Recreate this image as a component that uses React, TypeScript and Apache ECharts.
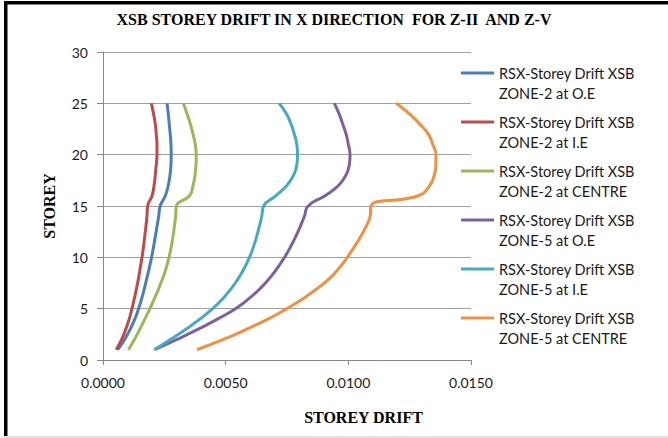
import React, { useEffect, useRef } from "react";
import * as echarts from "echarts";

// Storey numbers (vertical axis)
const storeys = [1, 2, 3, 4, 5, 6, 7, 8, 9, 10, 11, 12, 13, 14, 15, 16, 17, 18, 19, 20, 21, 22, 23, 24, 25];

// Storey drift values per storey, one list per case
const zone2OE = [0.0006, 0.00088, 0.00111, 0.0013, 0.00145, 0.00158, 0.00169, 0.00179, 0.00189, 0.00198, 0.00206, 0.00213, 0.0022, 0.00227, 0.00233, 0.00254, 0.00266, 0.00273, 0.00277, 0.00278, 0.00277, 0.00274, 0.0027, 0.00266, 0.00261];
const zone2IE = [0.00054, 0.00076, 0.00093, 0.00107, 0.00118, 0.00128, 0.00137, 0.00145, 0.00152, 0.00159, 0.00165, 0.0017, 0.00175, 0.00179, 0.00182, 0.002, 0.00208, 0.00213, 0.00217, 0.0022, 0.0022, 0.00217, 0.00213, 0.00206, 0.00197];
const zone2Centre = [0.00104, 0.00128, 0.0015, 0.00171, 0.00191, 0.0021, 0.00228, 0.00244, 0.00258, 0.00269, 0.00278, 0.00285, 0.00291, 0.00296, 0.00299, 0.00353, 0.00367, 0.00375, 0.00379, 0.0038, 0.00376, 0.00367, 0.00356, 0.00342, 0.00328];
const zone5OE = [0.0021, 0.00302, 0.00388, 0.00468, 0.0054, 0.00596, 0.00642, 0.0068, 0.00712, 0.0074, 0.00764, 0.00785, 0.00804, 0.00821, 0.00836, 0.00905, 0.0096, 0.0099, 0.01004, 0.01007, 0.01, 0.00991, 0.00977, 0.00962, 0.00943];
const zone5IE = [0.00209, 0.00275, 0.00338, 0.00396, 0.00447, 0.00489, 0.00524, 0.00553, 0.00577, 0.00597, 0.00613, 0.00626, 0.00637, 0.00647, 0.00655, 0.00705, 0.00749, 0.00777, 0.0079, 0.00793, 0.0079, 0.0078, 0.00766, 0.00747, 0.00718];
const zone5Centre = [0.00383, 0.00491, 0.00586, 0.00674, 0.00749, 0.00817, 0.00875, 0.00926, 0.00964, 0.00996, 0.01024, 0.0105, 0.01072, 0.01089, 0.01092, 0.01285, 0.01332, 0.0135, 0.01357, 0.01357, 0.01344, 0.01326, 0.0129, 0.01248, 0.01195];

const seriesNames = [
  "RSX-Storey Drift XSB\nZONE-2 at O.E",
  "RSX-Storey Drift XSB\nZONE-2 at I.E",
  "RSX-Storey Drift XSB\nZONE-2 at CENTRE",
  "RSX-Storey Drift XSB\nZONE-5 at O.E",
  "RSX-Storey Drift XSB\nZONE-5 at I.E",
  "RSX-Storey Drift XSB\nZONE-5 at CENTRE",
];
const seriesValues = [zone2OE, zone2IE, zone2Centre, zone5OE, zone5IE, zone5Centre];
const seriesColors = ["#4A7EBB", "#BE4B48", "#98B954", "#7D60A0", "#46AAC5", "#F09040"];

const titleText = "XSB STOREY DRIFT IN X DIRECTION  FOR Z-II  AND Z-V";
const xAxisTitle = "STOREY DRIFT";
const yAxisTitle = "STOREY";

const serif = "'Liberation Serif', 'Times New Roman', serif";
const sans = "Lato, 'Open Sans', sans-serif";

export default function App() {
  const ref = useRef<HTMLDivElement>(null);

  useEffect(() => {
    if (!ref.current) return;
    const chart = echarts.init(ref.current, undefined, { renderer: "svg" });

    const series = seriesValues.map((vals, i) => ({
      name: seriesNames[i],
      type: "line",
      data: vals.map((v, k) => [v, storeys[k]]),
      smooth: 0.5,
      showSymbol: false,
      symbol: "none",
      lineStyle: { width: 3, color: seriesColors[i] },
      itemStyle: { color: seriesColors[i] },
    }));

    chart.setOption({
      animation: false,
      backgroundColor: "#ffffff",
      title: {
        text: titleText,
        left: "center",
        top: 6,
        textStyle: { fontFamily: serif, fontWeight: "bold", fontSize: 16, color: "#000" },
      },
      grid: { left: 103, right: 197, top: 52, bottom: 78, containLabel: false },
      legend: {
        orient: "vertical",
        left: 461,
        top: 43,
        padding: 0,
        itemGap: -11,
        itemWidth: 33,
        itemHeight: 3,
        icon: "rect",
        data: seriesNames,
        // a blank leading line keeps the swatch level with the first text line
        formatter: (name: string) => "\n" + name,
        textStyle: {
          fontFamily: sans,
          fontSize: 14.5,
          lineHeight: 20,
          color: "#1a1a1a",
        },
      },
      xAxis: {
        type: "value",
        min: 0,
        max: 0.015,
        interval: 0.005,
        name: xAxisTitle,
        nameLocation: "middle",
        nameGap: 49,
        nameTextStyle: {
          fontFamily: serif,
          fontWeight: "bold",
          fontSize: 16,
          color: "#000",
          padding: [0, 0, 0, 153],
        },
        axisLine: { show: true, lineStyle: { color: "#888", width: 1 } },
        axisTick: { show: true, length: 5, lineStyle: { color: "#888" } },
        axisLabel: {
          margin: 15,
          fontFamily: sans,
          fontSize: 14,
          color: "#1a1a1a",
          formatter: (v: number) => v.toFixed(4),
        },
        splitLine: { show: false },
      },
      yAxis: {
        type: "value",
        min: 0,
        max: 30,
        interval: 5,
        name: yAxisTitle,
        nameLocation: "middle",
        nameGap: 46,
        nameTextStyle: { fontFamily: serif, fontWeight: "bold", fontSize: 16, color: "#000" },
        axisLine: { show: true, lineStyle: { color: "#888", width: 1 } },
        axisTick: { show: true, length: 6, lineStyle: { color: "#888" } },
        axisLabel: { margin: 15, fontFamily: sans, fontSize: 14, color: "#1a1a1a" },
        splitLine: { show: true, lineStyle: { color: "#a0a0a0", width: 1 } },
      },
      graphic: [
        { type: "rect", left: 4, top: 1, shape: { width: 664, height: 3.5 }, style: { fill: "#000" }, silent: true },
        { type: "rect", left: 4, top: 1, shape: { width: 3.5, height: 437 }, style: { fill: "#000" }, silent: true },
        { type: "rect", left: 4, top: 436, shape: { width: 664, height: 2 }, style: { fill: "#e2e2e2" }, silent: true },
      ],
      series,
    });

    return () => chart.dispose();
  }, []);

  return (
    <div
      ref={ref}
      style={{ position: "absolute", left: 0, top: 0, width: 668, height: 438 }}
    />
  );
}
